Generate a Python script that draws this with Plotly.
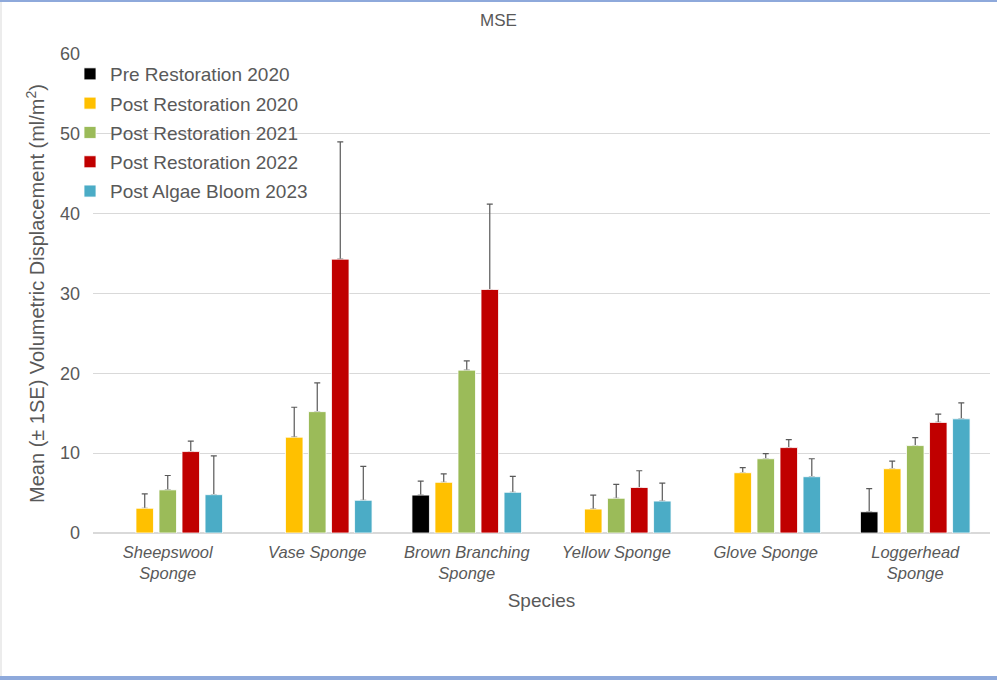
import plotly.graph_objects as go

categories = ["Sheepswool<br>Sponge", "Vase Sponge", "Brown Branching<br>Sponge",
              "Yellow Sponge", "Glove Sponge", "Loggerhead<br>Sponge"]

series_names = ["Pre Restoration 2020", "Post Restoration 2020", "Post Restoration 2021",
                "Post Restoration 2022", "Post Algae Bloom 2023"]

pre_2020 = [None, None, 4.75, None, None, 2.65]
post_2020 = [3.1, 12.0, 6.35, 3.0, 7.55, 8.05]
post_2021 = [5.4, 15.2, 20.4, 4.35, 9.3, 10.95]
post_2022 = [10.2, 34.3, 30.5, 5.7, 10.7, 13.85]
bloom_2023 = [4.8, 4.1, 5.1, 4.0, 7.05, 14.3]

pre_2020_se = [None, None, 1.75, None, None, 2.9]
post_2020_se = [1.8, 3.75, 1.05, 1.75, 0.65, 0.95]
post_2021_se = [1.8, 3.6, 1.15, 1.75, 0.65, 1.0]
post_2022_se = [1.3, 14.7, 10.7, 2.1, 1.0, 1.05]
bloom_2023_se = [4.85, 4.25, 2.0, 2.25, 2.25, 2.0]

colors = ["#000000", "#FFC000", "#9BBB59", "#C00000", "#4BACC6"]

values = [pre_2020, post_2020, post_2021, post_2022, bloom_2023]
errors = [pre_2020_se, post_2020_se, post_2021_se, post_2022_se, bloom_2023_se]

fig = go.Figure()

# error bars (drawn first so the bars cover the lower cap)
for i, (name, vals, errs) in enumerate(zip(series_names, values, errors)):
    fig.add_trace(go.Bar(
        x=categories, y=vals, offsetgroup=str(i),
        marker=dict(color="rgba(0,0,0,0)", line=dict(width=0)),
        error_y=dict(type="data", symmetric=False,
                     array=[e if e is not None else 0 for e in errs],
                     arrayminus=[0] * len(errs),
                     color="#595959", thickness=1.2, width=3),
        showlegend=False, hoverinfo="skip",
    ))

for i, (name, vals) in enumerate(zip(series_names, values)):
    fig.add_trace(go.Bar(
        x=categories, y=vals, name=name, offsetgroup=str(i),
        legendgroup=str(i),
        marker=dict(color=colors[i], line=dict(color="white", width=0.8)),
    ))

font_family = "Liberation Sans, Arial, sans-serif"

L, R, T, B = 93, 7, 54, 149
W, H = 997, 682
pw, ph = W - L - R, H - T - B

fig.update_layout(
    width=W, height=H,
    margin=dict(l=L, r=R, t=T, b=B),
    paper_bgcolor="white", plot_bgcolor="white",
    barmode="group", bargap=0.23, bargroupgap=0.24,
    font=dict(family=font_family, color="#595959"),
    title=dict(text="MSE", x=0.5, xanchor="center", y=1 - 20 / H, yanchor="middle",
               font=dict(size=17, color="#595959")),
    legend=dict(x=-23 / pw, y=1 - 1 / ph, xanchor="left", yanchor="top",
                font=dict(size=19, color="#595959"), bgcolor="rgba(0,0,0,0)",
                traceorder="grouped", tracegroupgap=1.6, itemwidth=30),
    xaxis=dict(
        tickfont=dict(size=16.5, color="#595959", style="italic"),
        showgrid=False, showline=True, linecolor="#D9D9D9", linewidth=1,
        ticks="", ticklabelstandoff=4,
        title=dict(text="Species", font=dict(size=19, color="#595959"), standoff=12),
    ),
    yaxis=dict(
        range=[0, 60], dtick=10, showgrid=True, gridcolor="#D9D9D9", gridwidth=1,
        zeroline=True, zerolinecolor="#D9D9D9", showline=False, ticks="",
        tickfont=dict(size=18, color="#595959"), ticklabelstandoff=12,
        title=dict(text="Mean (± 1SE) Volumetric Displacement (ml/m<sup>2</sup>)",
                   font=dict(size=20, color="#595959"), standoff=9),
    ),
)

# window frame decoration
fig.add_shape(type="line", xref="paper", yref="paper",
              x0=-L / pw, x1=1 + R / pw, y0=1 + (T - 1) / ph, y1=1 + (T - 1) / ph,
              line=dict(color="#8EA9DB", width=2))
fig.add_shape(type="rect", xref="paper", yref="paper",
              x0=-L / pw, x1=1 + R / pw, y0=-(B - 2) / ph, y1=-(B - 6) / ph,
              line=dict(width=0), fillcolor="#8EA9DB")
fig.add_shape(type="line", xref="paper", yref="paper",
              x0=-(L - 1) / pw, x1=-(L - 1) / pw, y0=-(B - 6) / ph, y1=1 + (T - 2) / ph,
              line=dict(color="#D9D9D9", width=1))

fig.write_html("out.html")
